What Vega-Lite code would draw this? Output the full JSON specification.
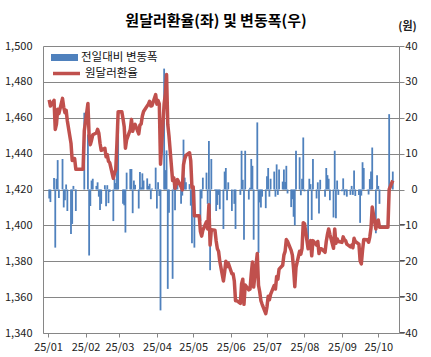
{
"$schema":"https://vega.github.io/schema/vega-lite/v6.json",
"width":356,"height":287,
"autosize":"none",
"padding":{"left":43,"top":46,"right":32,"bottom":24},
"background":"white",
"title":{"text":"원달러환율(좌) 및 변동폭(우)","font":"Noto Sans CJK KR","fontSize":15,"fontWeight":"bold","color":"#000","anchor":"middle","dx":-5,"offset":0,"dy":9},
"data":{"values":[
{"date":"2025-01-02","rate":1470.0,"change":-2.5},
{"date":"2025-01-03","rate":1466.5,"change":-3.5},
{"date":"2025-01-06","rate":1469.7,"change":3.2},
{"date":"2025-01-07","rate":1453.5,"change":-16.2},
{"date":"2025-01-08","rate":1456.5,"change":3.0},
{"date":"2025-01-09","rate":1464.7,"change":8.2},
{"date":"2025-01-10","rate":1462.3,"change":-2.4},
{"date":"2025-01-13","rate":1470.8,"change":8.5},
{"date":"2025-01-14","rate":1465.8,"change":-5.0},
{"date":"2025-01-15","rate":1462.8,"change":-3.0},
{"date":"2025-01-16","rate":1464.2,"change":1.4},
{"date":"2025-01-17","rate":1458.2,"change":-6.0},
{"date":"2025-01-20","rate":1445.8,"change":-12.4},
{"date":"2025-01-21","rate":1436.2,"change":-9.6},
{"date":"2025-01-22","rate":1437.2,"change":1.0},
{"date":"2025-01-23","rate":1437.3,"change":0.1},
{"date":"2025-01-24","rate":1431.3,"change":-6.0},
{"date":"2025-01-27","rate":1431.3,"change":0},
{"date":"2025-01-28","rate":1431.3,"change":0},
{"date":"2025-01-29","rate":1431.3,"change":0},
{"date":"2025-01-30","rate":1431.3,"change":0},
{"date":"2025-01-31","rate":1452.7,"change":21.4},
{"date":"2025-02-03","rate":1468.0,"change":15.3},
{"date":"2025-02-04","rate":1449.6,"change":-18.4},
{"date":"2025-02-05","rate":1445.0,"change":-4.6},
{"date":"2025-02-06","rate":1447.5,"change":2.5},
{"date":"2025-02-07","rate":1450.5,"change":3.0},
{"date":"2025-02-10","rate":1451.5,"change":1.0},
{"date":"2025-02-11","rate":1453.5,"change":2.0},
{"date":"2025-02-12","rate":1451.5,"change":-2.0},
{"date":"2025-02-13","rate":1445.8,"change":-5.7},
{"date":"2025-02-14","rate":1441.8,"change":-4.0},
{"date":"2025-02-17","rate":1443.0,"change":1.2},
{"date":"2025-02-18","rate":1438.3,"change":-4.7},
{"date":"2025-02-19","rate":1439.5,"change":1.2},
{"date":"2025-02-20","rate":1435.7,"change":-3.8},
{"date":"2025-02-21","rate":1435.0,"change":-0.7},
{"date":"2025-02-24","rate":1426.2,"change":-8.8},
{"date":"2025-02-25","rate":1429.2,"change":3.0},
{"date":"2025-02-26","rate":1431.0,"change":1.8},
{"date":"2025-02-27","rate":1446.0,"change":15.0},
{"date":"2025-02-28","rate":1463.4,"change":17.4},
{"date":"2025-03-03","rate":1463.4,"change":0},
{"date":"2025-03-04","rate":1459.4,"change":-4.0},
{"date":"2025-03-05","rate":1455.0,"change":-4.4},
{"date":"2025-03-06","rate":1443.0,"change":-12.0},
{"date":"2025-03-07","rate":1447.7,"change":4.7},
{"date":"2025-03-10","rate":1453.4,"change":5.7},
{"date":"2025-03-11","rate":1459.1,"change":5.7},
{"date":"2025-03-12","rate":1452.5,"change":-6.6},
{"date":"2025-03-13","rate":1455.0,"change":2.5},
{"date":"2025-03-14","rate":1456.3,"change":1.3},
{"date":"2025-03-17","rate":1451.0,"change":-5.3},
{"date":"2025-03-18","rate":1455.9,"change":4.9},
{"date":"2025-03-19","rate":1456.5,"change":0.6},
{"date":"2025-03-20","rate":1461.0,"change":4.5},
{"date":"2025-03-21","rate":1463.5,"change":2.5},
{"date":"2025-03-24","rate":1466.6,"change":3.1},
{"date":"2025-03-25","rate":1467.6,"change":1.0},
{"date":"2025-03-26","rate":1469.2,"change":1.6},
{"date":"2025-03-27","rate":1466.5,"change":-2.7},
{"date":"2025-03-28","rate":1466.8,"change":0.3},
{"date":"2025-03-31","rate":1472.9,"change":6.1},
{"date":"2025-04-01","rate":1467.6,"change":-5.3},
{"date":"2025-04-02","rate":1469.6,"change":2.0},
{"date":"2025-04-03","rate":1467.8,"change":-1.8},
{"date":"2025-04-04","rate":1434.1,"change":-33.7},
{"date":"2025-04-07","rate":1467.8,"change":33.7},
{"date":"2025-04-08","rate":1473.2,"change":5.4},
{"date":"2025-04-09","rate":1484.1,"change":10.9},
{"date":"2025-04-10","rate":1456.4,"change":-27.7},
{"date":"2025-04-11","rate":1449.9,"change":-6.5},
{"date":"2025-04-14","rate":1425.0,"change":-24.9},
{"date":"2025-04-15","rate":1426.5,"change":1.5},
{"date":"2025-04-16","rate":1420.7,"change":-5.8},
{"date":"2025-04-17","rate":1423.5,"change":2.8},
{"date":"2025-04-18","rate":1425.5,"change":2.0},
{"date":"2025-04-21","rate":1421.5,"change":-4.0},
{"date":"2025-04-22","rate":1419.8,"change":-1.7},
{"date":"2025-04-23","rate":1433.7,"change":13.9},
{"date":"2025-04-24","rate":1437.0,"change":3.3},
{"date":"2025-04-25","rate":1439.0,"change":2.0},
{"date":"2025-04-28","rate":1440.5,"change":1.5},
{"date":"2025-04-29","rate":1436.0,"change":-4.5},
{"date":"2025-04-30","rate":1421.0,"change":-15.0},
{"date":"2025-05-01","rate":1421.5,"change":0.5},
{"date":"2025-05-02","rate":1405.3,"change":-16.2},
{"date":"2025-05-05","rate":1405.3,"change":0},
{"date":"2025-05-06","rate":1405.3,"change":0},
{"date":"2025-05-07","rate":1396.5,"change":-8.8},
{"date":"2025-05-08","rate":1394.0,"change":-2.5},
{"date":"2025-05-09","rate":1397.3,"change":3.3},
{"date":"2025-05-12","rate":1402.0,"change":4.7},
{"date":"2025-05-13","rate":1398.0,"change":-4.0},
{"date":"2025-05-14","rate":1411.5,"change":13.5},
{"date":"2025-05-15","rate":1389.0,"change":-22.5},
{"date":"2025-05-16","rate":1397.5,"change":8.5},
{"date":"2025-05-19","rate":1397.3,"change":-0.2},
{"date":"2025-05-20","rate":1391.3,"change":-6.0},
{"date":"2025-05-21","rate":1387.0,"change":-4.3},
{"date":"2025-05-22","rate":1385.5,"change":-1.5},
{"date":"2025-05-23","rate":1380.0,"change":-5.5},
{"date":"2025-05-26","rate":1369.0,"change":-11.0},
{"date":"2025-05-27","rate":1374.0,"change":5.0},
{"date":"2025-05-28","rate":1380.0,"change":6.0},
{"date":"2025-05-29","rate":1377.0,"change":-3.0},
{"date":"2025-05-30","rate":1379.0,"change":2.0},
{"date":"2025-06-02","rate":1373.0,"change":-6.0},
{"date":"2025-06-03","rate":1373.0,"change":0},
{"date":"2025-06-04","rate":1369.0,"change":-4.0},
{"date":"2025-06-05","rate":1358.0,"change":-11.0},
{"date":"2025-06-06","rate":1358.0,"change":0},
{"date":"2025-06-09","rate":1356.5,"change":-1.5},
{"date":"2025-06-10","rate":1367.3,"change":10.8},
{"date":"2025-06-11","rate":1370.0,"change":2.7},
{"date":"2025-06-12","rate":1356.0,"change":-14.0},
{"date":"2025-06-13","rate":1366.8,"change":10.8},
{"date":"2025-06-16","rate":1364.0,"change":-2.8},
{"date":"2025-06-17","rate":1364.5,"change":0.5},
{"date":"2025-06-18","rate":1373.0,"change":8.5},
{"date":"2025-06-19","rate":1379.6,"change":6.6},
{"date":"2025-06-20","rate":1365.6,"change":-14.0},
{"date":"2025-06-23","rate":1384.3,"change":18.7},
{"date":"2025-06-24","rate":1366.6,"change":-17.7},
{"date":"2025-06-25","rate":1363.0,"change":-3.6},
{"date":"2025-06-26","rate":1358.0,"change":-5.0},
{"date":"2025-06-27","rate":1356.0,"change":-2.0},
{"date":"2025-06-30","rate":1350.8,"change":-5.2},
{"date":"2025-07-01","rate":1354.5,"change":3.7},
{"date":"2025-07-02","rate":1360.5,"change":6.0},
{"date":"2025-07-03","rate":1358.5,"change":-2.0},
{"date":"2025-07-04","rate":1361.5,"change":3.0},
{"date":"2025-07-07","rate":1366.5,"change":5.0},
{"date":"2025-07-08","rate":1364.5,"change":-2.0},
{"date":"2025-07-09","rate":1371.5,"change":7.0},
{"date":"2025-07-10","rate":1370.0,"change":-1.5},
{"date":"2025-07-11","rate":1375.6,"change":5.6},
{"date":"2025-07-14","rate":1377.8,"change":2.2},
{"date":"2025-07-15","rate":1383.4,"change":5.6},
{"date":"2025-07-16","rate":1385.5,"change":2.1},
{"date":"2025-07-17","rate":1392.1,"change":6.6},
{"date":"2025-07-18","rate":1391.0,"change":-1.1},
{"date":"2025-07-21","rate":1386.1,"change":-4.9},
{"date":"2025-07-22","rate":1383.4,"change":-2.7},
{"date":"2025-07-23","rate":1375.8,"change":-7.6},
{"date":"2025-07-24","rate":1365.8,"change":-10.0},
{"date":"2025-07-25","rate":1376.6,"change":10.8},
{"date":"2025-07-28","rate":1385.6,"change":9.0},
{"date":"2025-07-29","rate":1384.0,"change":-1.6},
{"date":"2025-07-30","rate":1387.0,"change":3.0},
{"date":"2025-07-31","rate":1401.5,"change":14.5},
{"date":"2025-08-01","rate":1401.0,"change":-0.5},
{"date":"2025-08-04","rate":1387.0,"change":-14.0},
{"date":"2025-08-05","rate":1390.0,"change":3.0},
{"date":"2025-08-06","rate":1391.5,"change":1.5},
{"date":"2025-08-07","rate":1383.0,"change":-8.5},
{"date":"2025-08-08","rate":1391.5,"change":8.5},
{"date":"2025-08-11","rate":1389.0,"change":-2.5},
{"date":"2025-08-12","rate":1391.0,"change":2.0},
{"date":"2025-08-13","rate":1384.3,"change":-6.7},
{"date":"2025-08-14","rate":1387.0,"change":2.7},
{"date":"2025-08-15","rate":1387.0,"change":0},
{"date":"2025-08-18","rate":1385.0,"change":-2.0},
{"date":"2025-08-19","rate":1391.0,"change":6.0},
{"date":"2025-08-20","rate":1395.0,"change":4.0},
{"date":"2025-08-21","rate":1398.0,"change":3.0},
{"date":"2025-08-22","rate":1395.0,"change":-3.0},
{"date":"2025-08-25","rate":1387.2,"change":-7.8},
{"date":"2025-08-26","rate":1398.0,"change":10.8},
{"date":"2025-08-27","rate":1390.0,"change":-8.0},
{"date":"2025-08-28","rate":1392.5,"change":2.5},
{"date":"2025-08-29","rate":1391.0,"change":-1.5},
{"date":"2025-09-01","rate":1390.5,"change":-0.5},
{"date":"2025-09-02","rate":1393.6,"change":3.1},
{"date":"2025-09-03","rate":1392.0,"change":-1.6},
{"date":"2025-09-04","rate":1391.5,"change":-0.5},
{"date":"2025-09-05","rate":1389.5,"change":-2.0},
{"date":"2025-09-08","rate":1388.0,"change":-1.5},
{"date":"2025-09-09","rate":1389.0,"change":1.0},
{"date":"2025-09-10","rate":1387.5,"change":-1.5},
{"date":"2025-09-11","rate":1392.8,"change":5.3},
{"date":"2025-09-12","rate":1391.0,"change":-1.8},
{"date":"2025-09-15","rate":1389.5,"change":-1.5},
{"date":"2025-09-16","rate":1380.2,"change":-9.3},
{"date":"2025-09-17","rate":1378.5,"change":-1.7},
{"date":"2025-09-18","rate":1386.1,"change":7.6},
{"date":"2025-09-19","rate":1392.1,"change":6.0},
{"date":"2025-09-22","rate":1392.0,"change":-0.1},
{"date":"2025-09-23","rate":1390.6,"change":-1.4},
{"date":"2025-09-24","rate":1393.5,"change":2.9},
{"date":"2025-09-25","rate":1398.5,"change":5.0},
{"date":"2025-09-26","rate":1410.2,"change":11.7},
{"date":"2025-09-29","rate":1398.0,"change":-12.2},
{"date":"2025-09-30","rate":1402.0,"change":4.0},
{"date":"2025-10-01","rate":1403.0,"change":1.0},
{"date":"2025-10-02","rate":1399.0,"change":-4.0},
{"date":"2025-10-03","rate":1399.0,"change":0},
{"date":"2025-10-06","rate":1399.0,"change":0},
{"date":"2025-10-07","rate":1399.0,"change":0},
{"date":"2025-10-08","rate":1399.0,"change":0},
{"date":"2025-10-09","rate":1399.0,"change":0},
{"date":"2025-10-10","rate":1420.0,"change":21.0},
{"date":"2025-10-13","rate":1425.0,"change":5.0}
]},
"encoding":{
 "x":{"field":"date","type":"temporal",
  "scale":{"type":"utc","domain":[{"year":2025,"month":1,"date":1,"utc":true},{"year":2025,"month":10,"date":14,"utc":true}]},
  "axis":{"title":null,"grid":false,
   "values":[{"year":2025,"month":1,"date":1,"utc":true},{"year":2025,"month":2,"date":1,"utc":true},{"year":2025,"month":3,"date":1,"utc":true},{"year":2025,"month":4,"date":1,"utc":true},{"year":2025,"month":5,"date":1,"utc":true},{"year":2025,"month":6,"date":1,"utc":true},{"year":2025,"month":7,"date":1,"utc":true},{"year":2025,"month":8,"date":1,"utc":true},{"year":2025,"month":9,"date":1,"utc":true},{"year":2025,"month":10,"date":1,"utc":true}],
   "labelExpr":"utcFormat(datum.value, '%y/%m')",
   "tickSize":4,"labelPadding":4,"labelFontSize":11,"labelAngle":0,"labelOverlap":false,"labelFlush":false}
 }
},
"layer":[
 {"mark":{"type":"bar","width":1.8},
  "encoding":{
   "y":{"field":"change","type":"quantitative","scale":{"domain":[-40,40],"nice":false},
    "axis":{"orient":"right","values":[-40,-30,-20,-10,0,10,20,30,40],"grid":false,"tickSize":5,"labelAlign":"right","labelPadding":13,"labelFontSize":11,
     "title":"(원)","titleAngle":0,"titleX":8,"titleY":-17,"titleAlign":"center","titleBaseline":"alphabetic","titleFontSize":11,"titleFontWeight":"bold"}},
   "fill":{"datum":"전일대비 변동폭","type":"nominal","scale":{"domain":["전일대비 변동폭"],"range":["#4F81BD"]},
    "legend":{"orient":"none","legendX":8,"legendY":-2,"title":null,"labelFontSize":11.5,"symbolType":"M-1,-0.26H1V0.26H-1Z","symbolSize":729,"symbolOpacity":1,"symbolStrokeWidth":0,"labelOffset":3}}
  }},
 {"mark":{"type":"line","strokeWidth":3.5,"strokeJoin":"round"},
  "encoding":{
   "y":{"field":"rate","type":"quantitative","scale":{"domain":[1340,1500],"nice":false,"zero":false},
    "axis":{"orient":"left","values":[1340,1360,1380,1400,1420,1440,1460,1480,1500],"format":",d","grid":true,"tickSize":0,"labelPadding":11,"labelFontSize":11,"title":null}},
   "stroke":{"datum":"원달러환율","type":"nominal","scale":{"domain":["원달러환율"],"range":["#C0504D"]},
    "legend":{"orient":"none","legendX":8,"legendY":12,"title":null,"labelFontSize":11.5,"symbolType":"stroke","symbolSize":729,"symbolOpacity":1,"symbolStrokeWidth":3.5,"labelOffset":3}}
  }}
],
"resolve":{"scale":{"y":"independent"}},
"config":{
 "font":"Noto Sans CJK KR",
 "view":{"stroke":null},
 "axis":{"domainColor":"#868686","tickColor":"#868686","gridColor":"#868686","gridWidth":1,"labelColor":"#222","labelFont":"Noto Sans CJK KR","titleColor":"#222"},
 "legend":{"labelColor":"#111","labelFont":"Noto Sans CJK KR"}
}
}
